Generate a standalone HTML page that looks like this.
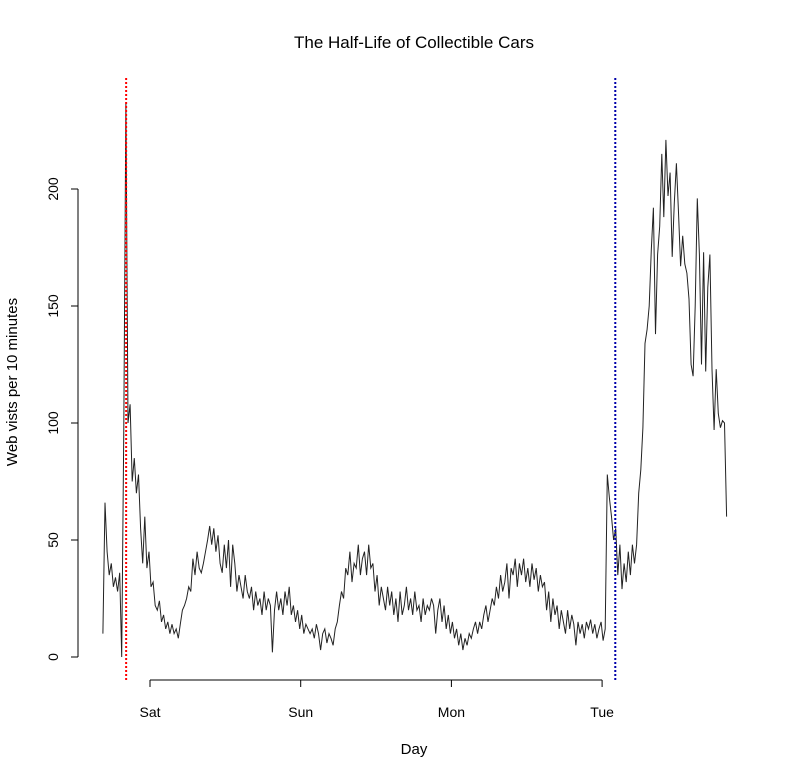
<!DOCTYPE html>
<html><head><meta charset="utf-8">
<style>
html,body{margin:0;padding:0;background:#fff;}
svg text{font-family:"Liberation Sans",sans-serif;fill:#000;}
</style></head>
<body>
<svg id="chart" width="791" height="778" xmlns="http://www.w3.org/2000/svg">
<text x="414" y="48" text-anchor="middle" font-size="17">The Half-Life of Collectible Cars</text>
<text x="414" y="754" text-anchor="middle" font-size="15">Day</text>
<text transform="translate(17,382) rotate(-90)" text-anchor="middle" font-size="15">Web vists per 10 minutes</text>
<g id="axes"></g>
<g id="marks"></g>
</svg>
<script>
// data: visits sampled every 20 minutes, starting at startHour (hours relative to Sat 00:00)
const startHour = -7.5;
const stepHours = 1/3;
const visits = [
10,66,45,35,40,30,34,28,36,0,
98,237,100,108,75,85,70,78,55,40,
60,38,45,30,32,22,20,24,15,18,
12,15,10,14,10,12,8,14,20,22,
25,30,28,42,35,45,38,36,40,45,
50,56,48,55,45,52,40,36,48,38,
50,30,48,40,28,35,30,25,35,28,
25,30,20,28,22,25,18,28,20,25,
22,2,20,28,20,25,18,28,22,30,
18,22,15,20,12,18,10,14,12,10,
12,8,14,10,3,10,12,6,10,8,
5,12,15,22,28,25,38,35,45,32,
40,38,48,35,42,45,35,48,38,40,
28,35,22,30,25,20,30,22,28,18,
25,15,28,18,22,30,20,25,18,28,
20,22,15,25,18,22,20,25,22,10,
20,25,15,22,12,18,10,15,8,12,
5,10,3,8,5,10,8,12,15,10,
15,12,18,22,15,20,25,22,30,25,
35,28,32,40,25,38,35,42,30,40,
35,42,32,38,30,40,33,38,28,35,
30,32,20,28,15,25,18,22,12,20,
15,10,20,12,18,14,5,15,10,14,
8,15,12,16,10,14,8,12,15,7,
12,78,68,60,50,55,35,48,29,40,
32,45,35,48,40,48,70,80,98,134,
140,150,174,192,138,172,184,215,188,221,
197,207,171,194,211,190,167,180,168,164,
153,125,120,150,196,172,125,173,122,158,
172,123,97,123,104,98,101,100,60
];
const dayLabels = ["Sat","Sun","Mon","Tue"];
const dayHours = [0,24,48,72];
const yTicks = [0,50,100,150,200];
const eventHours = [-3.8, 74.1];
const eventColors = ["#ff0000","#0000aa"];

const NS = "http://www.w3.org/2000/svg";
function xs(h){ return 150 + h * (150.7/24); }
function ys(v){ return 657 - v * 2.34; }
function mk(tag, attrs, parent){
  const e = document.createElementNS(NS, tag);
  for (const k in attrs) e.setAttribute(k, attrs[k]);
  parent.appendChild(e);
  return e;
}
const axes = document.getElementById('axes');
const marks = document.getElementById('marks');

let yl = mk('line', {x1:78, x2:78, y1:ys(yTicks[0]), y2:ys(yTicks[yTicks.length-1]), stroke:'#000'}, axes);


yTicks.forEach(v => {
  const t = mk('line', {x1:71, x2:78, y1:ys(v), y2:ys(v), stroke:'#000'}, axes);
  
  
  const lb = mk('text', {transform:`translate(58,${ys(v)}) rotate(-90)`, 'text-anchor':'middle', 'font-size':'14'}, axes);
  lb.textContent = v;
  
  
});

let xl = mk('line', {x1:xs(dayHours[0]), x2:xs(dayHours[dayHours.length-1]), y1:680, y2:680, stroke:'#000'}, axes);


dayHours.forEach((h, i) => {
  const t = mk('line', {x1:xs(h), x2:xs(h), y1:680, y2:687, stroke:'#000'}, axes);
  
  
  const lb = mk('text', {x:xs(h), y:717, 'text-anchor':'middle', 'font-size':'14'}, axes);
  lb.textContent = dayLabels[i];
  
  
});

const pts = visits.map((v, i) => xs(startHour + i*stepHours).toFixed(1) + ',' + ys(v).toFixed(1)).join(' ');
const pl = mk('polyline', {points:pts, fill:'none', stroke:'#222', 'stroke-width':'1'}, marks);



eventHours.forEach((h, i) => {
  const l = mk('line', {x1:xs(h), x2:xs(h), y1:78, y2:680, stroke:eventColors[i], 'stroke-width':'2', 'stroke-dasharray':'2,2'}, marks);
  
  
});
</script>
</body></html>
